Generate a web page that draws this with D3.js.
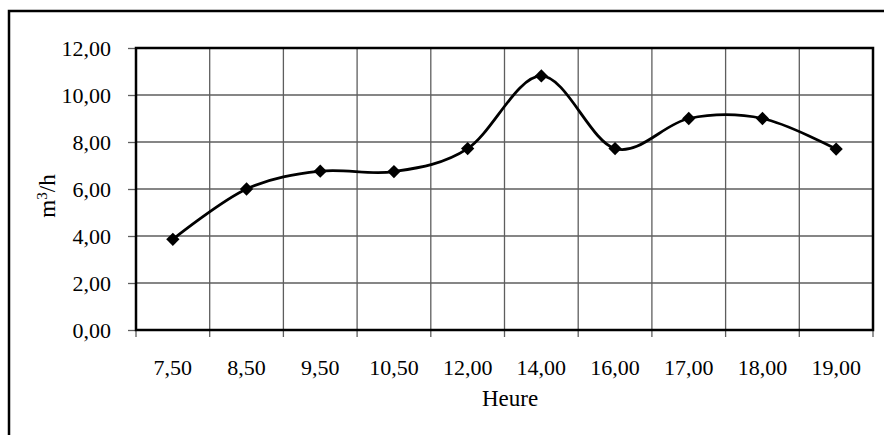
<!DOCTYPE html>
<html>
<head>
<meta charset="utf-8">
<script src="https://cdn.jsdelivr.net/npm/d3@7"></script>
<style>
  body { margin: 0; background: #fff; }
  svg text { font-family: "Liberation Serif", "DejaVu Serif", serif; fill: #000; }
</style>
</head>
<body>
<div id="chart"></div>
<script>
var heures = ["7,50", "8,50", "9,50", "10,50", "12,00", "14,00", "16,00", "17,00", "18,00", "19,00"];
var debit = [3.86, 6.0, 6.76, 6.74, 7.72, 10.81, 7.72, 9.0, 9.0, 7.7];
var yTicks = [0, 2, 4, 6, 8, 10, 12];

var width = 884, height = 435;
var margin = { left: 136, top: 48, right: 884 - 873, bottom: 435 - 330 };
var gridColor = "#5e5e5e";

var svg = d3.select("#chart").append("svg")
    .attr("width", width)
    .attr("height", height);

// outer frame (only left and top are visible in the picture)
svg.append("path")
    .attr("d", "M9,435 V11 H884")
    .style("fill", "none")
    .style("stroke", "#000")
    .style("stroke-width", 2.5);

var x = d3.scaleBand()
    .domain(heures)
    .range([margin.left, width - margin.right]);

var y = d3.scaleLinear()
    .domain([0, 12])
    .range([height - margin.bottom, margin.top]);

var fmt = function(d) { return d3.format(".2f")(d).replace(".", ","); };

// horizontal gridlines
svg.append("g")
    .selectAll("line")
    .data(yTicks)
    .join("line")
    .attr("x1", margin.left)
    .attr("x2", width - margin.right)
    .attr("y1", function(d) { return y(d); })
    .attr("y2", function(d) { return y(d); })
    .style("stroke", gridColor)
    .style("stroke-width", 1.3);

// vertical gridlines at band edges
var edges = heures.map(function(h) { return x(h); }).concat([x.range()[1]]);
svg.append("g")
    .selectAll("line")
    .data(edges)
    .join("line")
    .attr("x1", function(d) { return d; })
    .attr("x2", function(d) { return d; })
    .attr("y1", margin.top)
    .attr("y2", height - margin.bottom)
    .style("stroke", gridColor)
    .style("stroke-width", 1.3);

// x tick marks below axis
svg.append("g")
    .selectAll("line")
    .data(edges)
    .join("line")
    .attr("x1", function(d) { return d; })
    .attr("x2", function(d) { return d; })
    .attr("y1", height - margin.bottom)
    .attr("y2", height - margin.bottom + 7)
    .style("stroke", gridColor)
    .style("stroke-width", 1.3);

// y axis
var yAxis = svg.append("g")
    .attr("transform", "translate(" + margin.left + ",0)")
    .call(d3.axisLeft(y).tickValues(yTicks).tickFormat(fmt).tickSize(8).tickPadding(17));
yAxis.select(".domain").remove();
yAxis.selectAll(".tick line").style("stroke", gridColor).style("stroke-width", 1.3);
yAxis.selectAll(".tick text")
    .style("font-size", "22px")
    .style("font-family", "Liberation Serif")
    .attr("dy", "0.34em");

// x labels
svg.append("g")
    .selectAll("text")
    .data(heures)
    .join("text")
    .attr("x", function(d) { return x(d) + x.bandwidth() / 2; })
    .attr("y", 375)
    .attr("text-anchor", "middle")
    .style("font-size", "22px")
    .text(function(d) { return d; });

// plot frame
svg.append("rect")
    .attr("x", margin.left)
    .attr("y", margin.top)
    .attr("width", width - margin.left - margin.right)
    .attr("height", height - margin.top - margin.bottom)
    .style("fill", "none")
    .style("stroke", "#000")
    .style("stroke-width", 2.5);

// axis titles
svg.append("text")
    .attr("x", 510)
    .attr("y", 406)
    .attr("text-anchor", "middle")
    .style("font-size", "23px")
    .text("Heure");

svg.append("text")
    .attr("transform", "translate(55,196) rotate(-90)")
    .attr("text-anchor", "middle")
    .style("font-size", "23px")
    .html("m<tspan baseline-shift=\"super\" font-size=\"15px\">3</tspan>/h");

// smoothed line
var line = d3.line()
    .x(function(d, i) { return x(heures[i]) + x.bandwidth() / 2; })
    .y(function(d) { return y(d); })
    .curve(d3.curveCardinal.tension(0));

svg.append("path")
    .datum(debit)
    .attr("d", line)
    .style("fill", "none")
    .style("stroke", "#000")
    .style("stroke-width", 2.8);

// diamond markers
svg.append("g")
    .selectAll("path")
    .data(debit)
    .join("path")
    .attr("transform", function(d, i) {
        return "translate(" + (x(heures[i]) + x.bandwidth() / 2) + "," + y(d) + ") rotate(45)";
    })
    .attr("d", d3.symbol().type(d3.symbolSquare).size(88))
    .style("fill", "#000");
</script>
</body>
</html>
